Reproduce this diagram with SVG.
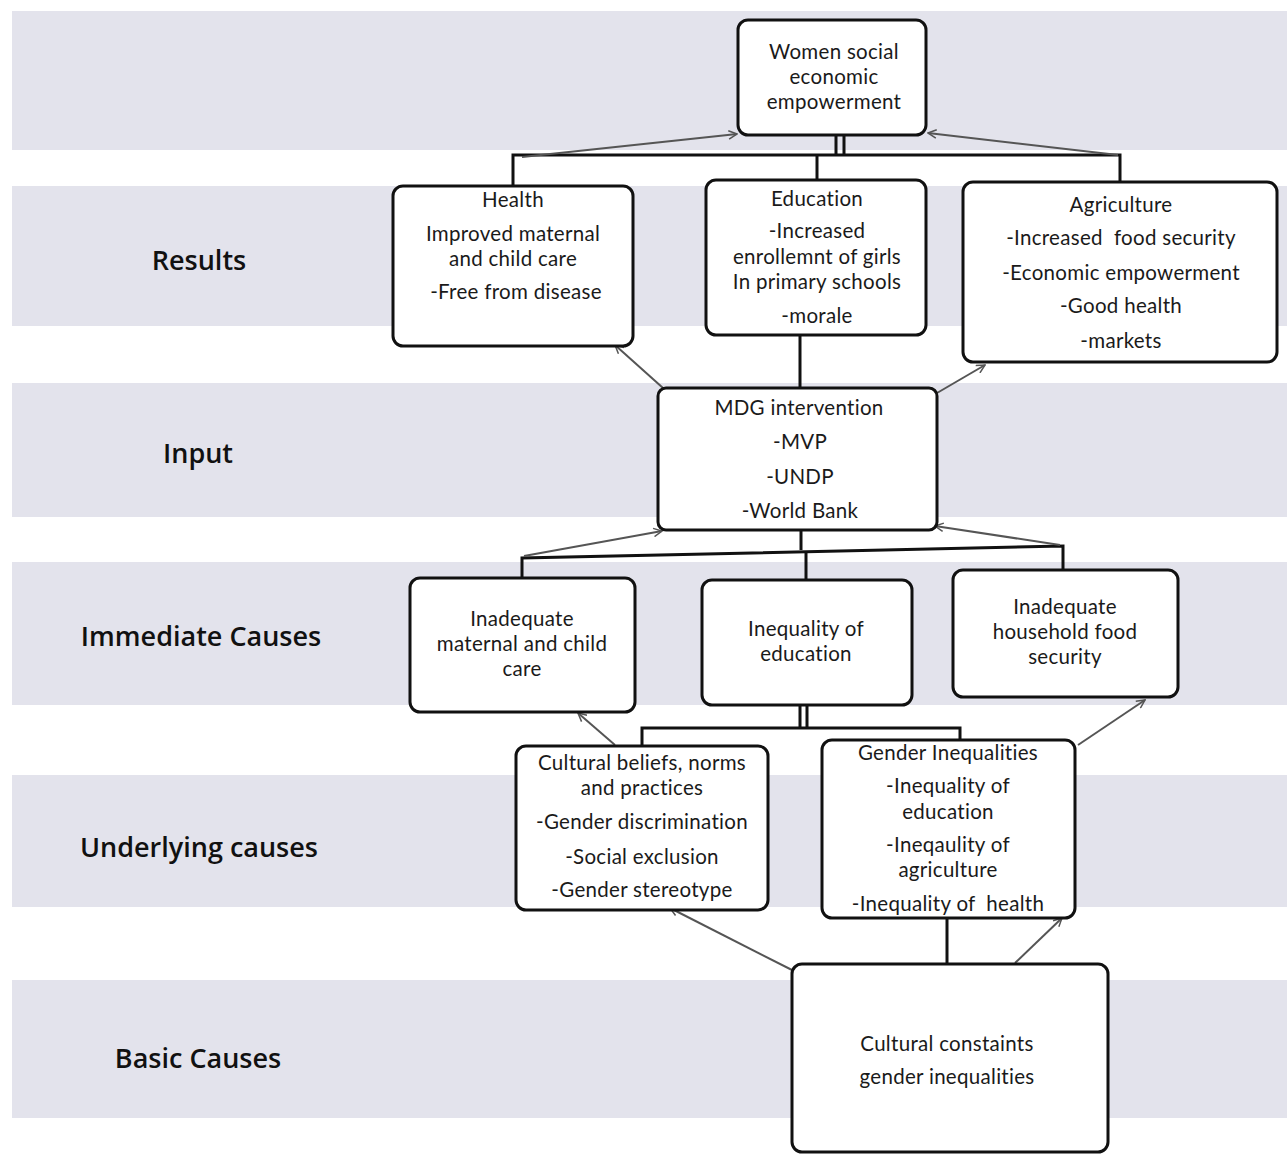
<svg xmlns="http://www.w3.org/2000/svg" width="1287" height="1155" viewBox="0 0 1287 1155">
<style>
.band{fill:#e3e3ec}
.box{fill:#fff;stroke:#111;stroke-width:3}
.t{font-family:Lato,"Open Sans","DejaVu Sans",sans-serif;font-size:20.5px;letter-spacing:0.3px;fill:#1a1a1a;text-anchor:middle}
.lbl{font-family:"Open Sans","DejaVu Sans",sans-serif;font-size:27px;font-weight:600;fill:#111;text-anchor:middle}
.bar{stroke:#111;stroke-width:3;fill:none}
.arr{stroke:#555;stroke-width:2;fill:none;marker-end:url(#ah)}
</style>
<defs>
<marker id="ah" viewBox="0 0 12 12" refX="11" refY="6" markerWidth="10" markerHeight="10" markerUnits="userSpaceOnUse" orient="auto">
<path d="M1,1 L11,6 L1,11" fill="none" stroke="#555" stroke-width="1.8"/>
</marker>
</defs>
<rect width="1287" height="1155" fill="#fff"/>
<g id="bands">
<rect class="band" x="12" y="11" width="1275" height="139"/>
<rect class="band" x="12" y="186" width="1275" height="140"/>
<rect class="band" x="12" y="383" width="1275" height="134"/>
<rect class="band" x="12" y="562" width="1275" height="143"/>
<rect class="band" x="12" y="775" width="1275" height="132"/>
<rect class="band" x="12" y="980" width="1275" height="138"/>
</g>
<g id="labels">
<text class="lbl" x="199" y="270">Results</text>
<text class="lbl" x="198" y="463">Input</text>
<text class="lbl" x="201" y="646">Immediate Causes</text>
<text class="lbl" x="199" y="857">Underlying causes</text>
<text class="lbl" x="198" y="1068">Basic Causes</text>
</g>
<g id="connectors">
<path class="bar" d="M513,185 V155 H1120 V182"/>
<path class="bar" d="M817,155 V180" stroke-width="2"/>
<path class="bar" d="M836,135 V155 M844,135 V155"/>
<path class="arr" d="M522,157 L737,134"/>
<path class="arr" d="M1118,155 L928,133"/>
<path class="arr" d="M663,388 L615,345"/>
<path class="bar" d="M800,335 V388" stroke-width="4"/>
<path class="arr" d="M937,393 L985,365"/>
<path class="bar" d="M801,530 V550" stroke-width="4"/>
<path class="bar" d="M522,578 V558 L1063,546 V570"/>
<path class="bar" d="M806,552 V580" stroke-width="2"/>
<path class="arr" d="M524,556 L662,531"/>
<path class="arr" d="M1060,545 L935,526"/>
<path class="bar" d="M800,705 V728 M807,705 V728"/>
<path class="bar" d="M642,748 V728 H960 V742"/>
<path class="arr" d="M615,745 L578,713"/>
<path class="arr" d="M1078,745 L1145,700"/>
<path class="bar" d="M947,918 V965" stroke-width="4"/>
<path class="arr" d="M792,970 L670,908"/>
<path class="arr" d="M1015,963 L1062,918"/>
</g>
<g id="n-women">
<rect class="box" x="738" y="20" width="188" height="115" rx="10"/>
<text class="t" x="834" y="59">Women social</text>
<text class="t" x="834" y="84">economic</text>
<text class="t" x="834" y="109">empowerment</text>
</g>
<g id="n-health">
<rect class="box" x="393" y="186" width="240" height="160" rx="10"/>
<text class="t" x="513" y="207">Health</text>
<text class="t" x="513" y="241">Improved maternal</text>
<text class="t" x="513" y="266">and child care</text>
<text class="t" x="516" y="299">-Free from disease</text>
</g>
<g id="n-education">
<rect class="box" x="706" y="180" width="220" height="155" rx="10"/>
<text class="t" x="817" y="206">Education</text>
<text class="t" x="817" y="238">-Increased</text>
<text class="t" x="817" y="264">enrollemnt of girls</text>
<text class="t" x="817" y="289">In primary schools</text>
<text class="t" x="817" y="323">-morale</text>
</g>
<g id="n-agriculture">
<rect class="box" x="963" y="182" width="314" height="180" rx="10"/>
<text class="t" x="1121" y="212">Agriculture</text>
<text class="t" x="1121" y="245" xml:space="preserve">-Increased  food security</text>
<text class="t" x="1121" y="280">-Economic empowerment</text>
<text class="t" x="1121" y="313">-Good health</text>
<text class="t" x="1121" y="348">-markets</text>
</g>
<g id="n-mdg">
<rect class="box" x="658" y="388" width="279" height="142" rx="8"/>
<text class="t" x="799" y="415">MDG intervention</text>
<text class="t" x="800" y="449">-MVP</text>
<text class="t" x="800" y="484">-UNDP</text>
<text class="t" x="800" y="518">-World Bank</text>
</g>
<g id="n-maternal">
<rect class="box" x="410" y="578" width="225" height="134" rx="10"/>
<text class="t" x="522" y="626">Inadequate</text>
<text class="t" x="522" y="651">maternal and child</text>
<text class="t" x="522" y="676">care</text>
</g>
<g id="n-inequality">
<rect class="box" x="702" y="580" width="210" height="125" rx="10"/>
<text class="t" x="806" y="636">Inequality of</text>
<text class="t" x="806" y="661">education</text>
</g>
<g id="n-food">
<rect class="box" x="953" y="570" width="225" height="127" rx="10"/>
<text class="t" x="1065" y="614">Inadequate</text>
<text class="t" x="1065" y="639">household food</text>
<text class="t" x="1065" y="664">security</text>
</g>
<g id="n-cultural">
<rect class="box" x="516" y="746" width="252" height="164" rx="10"/>
<text class="t" x="642" y="770">Cultural beliefs, norms</text>
<text class="t" x="642" y="795">and practices</text>
<text class="t" x="642" y="829">-Gender discrimination</text>
<text class="t" x="642" y="864">-Social exclusion</text>
<text class="t" x="642" y="897">-Gender stereotype</text>
</g>
<g id="n-gender">
<rect class="box" x="822" y="740" width="253" height="178" rx="10"/>
<text class="t" x="948" y="760">Gender Inequalities</text>
<text class="t" x="948" y="793">-Inequality of</text>
<text class="t" x="948" y="819">education</text>
<text class="t" x="948" y="852">-Ineqaulity of</text>
<text class="t" x="948" y="877">agriculture</text>
<text class="t" x="948" y="911" xml:space="preserve">-Inequality of  health</text>
</g>
<g id="n-basic">
<rect class="box" x="792" y="964" width="316" height="188" rx="10"/>
<text class="t" x="947" y="1051">Cultural constaints</text>
<text class="t" x="947" y="1084">gender inequalities</text>
</g>
</svg>
